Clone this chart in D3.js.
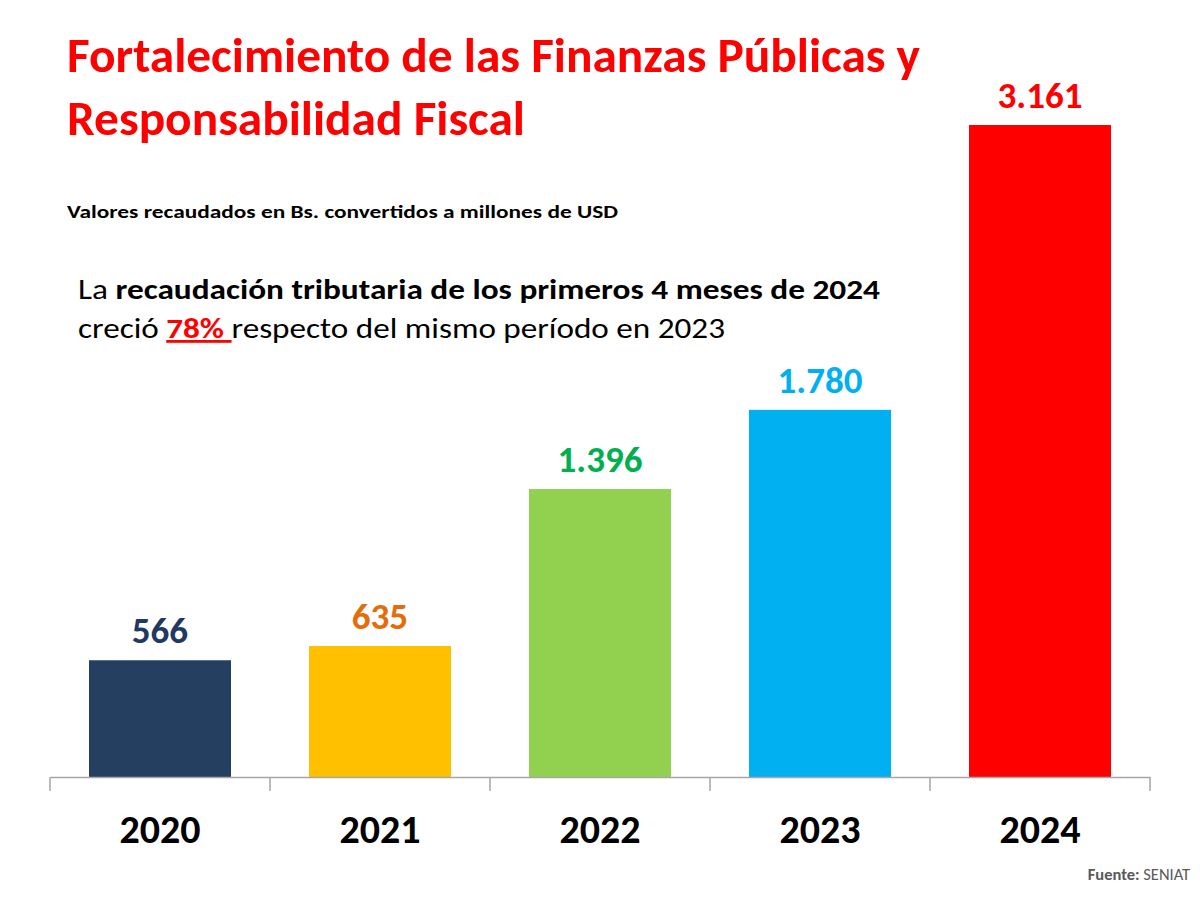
<!DOCTYPE html>
<html>
<head>
<meta charset="utf-8">
<script src="https://cdn.jsdelivr.net/npm/d3@7"></script>
<style>
  html, body { margin: 0; padding: 0; background: #fff; }
  svg { display: block; }
  text { font-family: Carlito, Lato, "Open Sans", sans-serif; }
</style>
</head>
<body>
<svg id="chart" width="1200" height="900"></svg>
<script>
const years = ["2020", "2021", "2022", "2023", "2024"];
const values = [566, 635, 1396, 1780, 3161];
const valueLabels = ["566", "635", "1.396", "1.780", "3.161"];
const barColors = ["#243F60", "#FFC000", "#92D050", "#00B0F0", "#FF0000"];
const labelColors = ["#1F3864", "#E46C0A", "#00B050", "#00B0F0", "#FF0000"];

const titleLines = ["Fortalecimiento de las Finanzas Públicas y", "Responsabilidad Fiscal"];
const subtitle = "Valores recaudados en Bs. convertidos a millones de USD";
const source = ["Fuente: ", "SENIAT"];

const svg = d3.select("#chart");

const x = d3.scaleBand().domain(years).range([50, 1150]).paddingInner(0.3545).paddingOuter(0.3545 / 2);
const y = d3.scaleLinear().domain([0, 3161]).range([777, 125]);

// Title
const titleFits = [853, 458];
titleLines.forEach((t, i) => {
  svg.append("text")
    .attr("x", 67).attr("y", 72 + i * 63)
    .attr("fill", "#FF0000").attr("font-weight", "bold").attr("font-size", 48)
    .attr("textLength", titleFits[i]).attr("lengthAdjust", "spacingAndGlyphs")
    .text(t);
});

// Subtitle
svg.append("text")
  .attr("x", 67).attr("y", 218)
  .attr("fill", "#000").attr("font-weight", "bold").attr("font-size", 18)
  .attr("textLength", 551).attr("lengthAdjust", "spacingAndGlyphs")
  .text(subtitle);

// Annotation
const a1 = svg.append("text").attr("x", 78).attr("y", 299).attr("font-size", 28).attr("fill", "#000")
  .attr("textLength", 802).attr("lengthAdjust", "spacingAndGlyphs");
a1.append("tspan").text("La ");
a1.append("tspan").attr("font-weight", "bold").text("recaudación tributaria de los primeros 4 meses de 2024");

const a2 = svg.append("text").attr("x", 78).attr("y", 338).attr("font-size", 28).attr("fill", "#000")
  .attr("textLength", 647).attr("lengthAdjust", "spacingAndGlyphs")
  .style("white-space", "pre");
a2.append("tspan").text("creció ");
a2.append("tspan").attr("font-weight", "bold").attr("fill", "#FF0000")
  .style("text-decoration", "underline").text("78% ");
a2.append("tspan").text("respecto del mismo período en 2023");

// Bars
svg.append("g").selectAll("rect").data(values).join("rect")
  .attr("x", (d, i) => x(years[i]))
  .attr("width", x.bandwidth())
  .attr("y", d => y(d))
  .attr("height", d => y(0) - y(d))
  .attr("fill", (d, i) => barColors[i]);

// Value labels
svg.append("g").selectAll("text").data(values).join("text")
  .attr("x", (d, i) => x(years[i]) + x.bandwidth() / 2)
  .attr("y", d => y(d) - 17)
  .attr("text-anchor", "middle")
  .attr("font-weight", "bold").attr("font-size", 37)
  .attr("fill", (d, i) => labelColors[i])
  .text((d, i) => valueLabels[i]);

// Axis
const axis = d3.axisBottom(x).tickSize(0).tickSizeOuter(0).tickFormat("");
const gAxis = svg.append("g").attr("transform", `translate(0,${y(0)})`).call(axis);
gAxis.select(".domain").attr("stroke", "#A6A6A6").attr("stroke-width", 1.5);
gAxis.selectAll(".tick").remove();
const sep = d3.range(years.length + 1).map(i => i === years.length ? x.range()[1] : x(years[i]) - x.step() * x.paddingInner() / 2);
svg.append("g").selectAll("line").data(sep).join("line")
  .attr("x1", d => d).attr("x2", d => d)
  .attr("y1", y(0)).attr("y2", y(0) + 14)
  .attr("stroke", "#A6A6A6").attr("stroke-width", 1.5);

// Year labels
svg.append("g").selectAll("text").data(years).join("text")
  .attr("x", d => x(d) + x.bandwidth() / 2)
  .attr("y", 843)
  .attr("text-anchor", "middle")
  .attr("font-weight", "bold").attr("font-size", 40)
  .attr("fill", "#000")
  .text(d => d);

// Source
const s = svg.append("text").attr("x", 1190).attr("y", 880).attr("text-anchor", "end")
  .attr("font-size", 16.5).attr("fill", "#595959");
s.append("tspan").attr("font-weight", "bold").text(source[0]);
s.append("tspan").text(source[1]);
</script>
</body>
</html>
